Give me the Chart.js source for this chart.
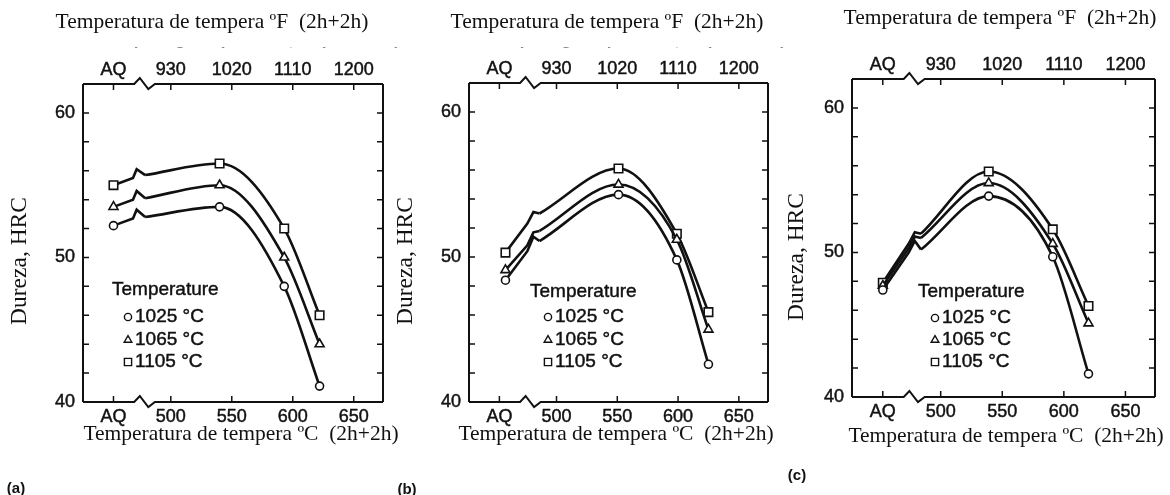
<!DOCTYPE html>
<html>
<head>
<meta charset="utf-8">
<script src="https://cdn.jsdelivr.net/npm/chart.js@4.4.0/dist/chart.umd.min.js"></script>
<style>
  html, body { margin: 0; padding: 0; background: #fff; }
  #wrap { position: relative; width: 1170px; height: 495px; overflow: hidden; }
  #wrap canvas { position: absolute; top: 0; }
</style>
</head>
<body>
<div id="wrap">
  <canvas id="chartA" width="410" height="495" style="left:0px"></canvas>
  <canvas id="chartB" width="410" height="495" style="left:390px"></canvas>
  <canvas id="chartC" width="410" height="495" style="left:780px"></canvas>
</div>
<script>
// ejes comunes
const tickC = [453, 500, 550, 600, 650];
const tickLabelsC = ['AQ', '500', '550', '600', '650'];
const tickLabelsF = ['AQ', '930', '1020', '1110', '1200'];
const seriesNames = ['1025 °C', '1065 °C', '1105 °C'];
const axisBreak = [470, 487];

// panel (a): AQ + revenidos
const tempsA = [453, 540, 593, 622];
const hrcA1025 = [52.2, 53.5, 48.0, 41.1];
const hrcA1065 = [53.5, 55.0, 50.0, 44.0];
const hrcA1105 = [55.0, 56.5, 52.0, 46.0];
const breakTempsA = [469, 472, 479];
const breakA1025 = [52.7, 53.3, 52.8];
const breakA1065 = [54.0, 54.6, 54.1];
const breakA1105 = [55.5, 56.1, 55.7];

// panel (b)
const tempsB = [458, 551, 599, 625];
const hrcB1025 = [48.4, 54.3, 49.8, 42.6];
const hrcB1065 = [49.1, 55.0, 51.2, 45.0];
const hrcB1105 = [50.3, 56.1, 51.6, 46.2];
const breakTempsB = [476, 481, 486];
const breakB1025 = [50.4, 51.4, 51.1];
const breakB1065 = [50.8, 51.7, 51.8];
const breakB1105 = [52.3, 53.1, 53.0];

// panel (c)
const tempsC = [453, 539, 591, 620];
const hrcC1025 = [47.4, 53.9, 49.7, 41.6];
const hrcC1065 = [47.7, 54.8, 50.6, 45.1];
const hrcC1105 = [47.9, 55.6, 51.6, 46.3];
const breakTempsC = [474, 479, 484];
const breakC1025 = [50.0, 50.8, 50.2];
const breakC1065 = [50.3, 51.1, 51.0];
const breakC1105 = [50.6, 51.4, 51.3];

const markers = [
  { style: 'circle', radius: 4 },
  { style: 'triangle', radius: 5.2 },
  { style: 'rect', radius: 6 }
];

const SANS = '"Liberation Sans", Arial, sans-serif';
const SERIF = '"Liberation Serif", "Times New Roman", serif';
const INK = '#111';
const CANVAS_W = 410;

const paneles = [
  {
    id: 'chartA', caption: '(a)', temps: tempsA, breakTemps: breakTempsA,
    series: [hrcA1025, hrcA1065, hrcA1105], breaks: [breakA1025, breakA1065, breakA1105],
    box: { left: 83, right: 383, top: 84, bottom: 402 },
    titleTop: [212, 22], titleBottom: [241, 434], titleY: [20, 261], captionAt: [16, 489],
    oldTitle: [250, 45],
    legend: { x: 112, y: 290, mx: 128, tx: 135, rows: [317, 340, 362] }
  },
  {
    id: 'chartB', caption: '(b)', temps: tempsB, breakTemps: breakTempsB,
    series: [hrcB1025, hrcB1065, hrcB1105], breaks: [breakB1025, breakB1065, breakB1105],
    box: { left: 79, right: 378, top: 83, bottom: 402 },
    titleTop: [217, 22], titleBottom: [226, 434], titleY: [16, 261], captionAt: [17, 490],
    oldTitle: [246, 45],
    legend: { x: 140, y: 292, mx: 158, tx: 165, rows: [317, 340, 362] }
  },
  {
    id: 'chartC', caption: '(c)', temps: tempsC, breakTemps: breakTempsC,
    series: [hrcC1025, hrcC1065, hrcC1105], breaks: [breakC1025, breakC1065, breakC1105],
    box: { left: 72, right: 375, top: 79, bottom: 397 },
    titleTop: [220, 18], titleBottom: [226, 436], titleY: [17, 257], captionAt: [17, 476],
    oldTitle: null,
    legend: { x: 138, y: 292, mx: 155, tx: 162, rows: [318, 340, 362] }
  }
];

function marcador(ctx, style, x, y, r) {
  ctx.beginPath();
  if (style === 'circle') {
    ctx.arc(x, y, r, 0, Math.PI * 2);
  } else if (style === 'triangle') {
    ctx.moveTo(x, y - r);
    ctx.lineTo(x + r * 0.866, y + r * 0.5);
    ctx.lineTo(x - r * 0.866, y + r * 0.5);
    ctx.closePath();
  } else {
    const s = r * Math.SQRT1_2;
    ctx.rect(x - s, y - s, 2 * s, 2 * s);
  }
  ctx.fillStyle = '#fff';
  ctx.fill();
  ctx.stroke();
}

function texto(ctx, txt, x, y, grosor) {
  ctx.fillText(txt, x, y);
  if (grosor) {
    ctx.lineWidth = grosor;
    ctx.strokeText(txt, x, y);
  }
}

// marco, marcas hacia dentro, cortes del eje, leyenda y textos
const marcoPlugin = {
  id: 'marco',
  afterDraw(chart, args, p) {
    const ctx = chart.ctx;
    const { left, right, top, bottom } = chart.chartArea;
    const xs = chart.scales.x, ys = chart.scales.y;
    const b1 = xs.getPixelForValue(axisBreak[0]);
    const b2 = xs.getPixelForValue(axisBreak[1]);
    const w = b2 - b1;
    ctx.save();
    ctx.strokeStyle = INK;
    ctx.lineWidth = 2;
    ctx.lineJoin = 'miter';
    [top, bottom].forEach(yy => {
      ctx.beginPath();
      ctx.moveTo(left, yy);
      ctx.lineTo(b1, yy);
      ctx.lineTo(b1 + w * 0.27, yy - 6);
      ctx.lineTo(b1 + w * 0.68, yy + 5);
      ctx.lineTo(b2, yy);
      ctx.lineTo(right, yy);
      ctx.stroke();
    });
    ctx.beginPath();
    ctx.moveTo(left, top); ctx.lineTo(left, bottom);
    ctx.moveTo(right, top); ctx.lineTo(right, bottom);
    ctx.stroke();

    ctx.lineWidth = 1.5;
    ctx.beginPath();
    ys.ticks.forEach(t => {
      const py = ys.getPixelForValue(t.value);
      if (py <= top + 2 || py >= bottom - 2) return;
      ctx.moveTo(left, py); ctx.lineTo(left + 6, py);
      ctx.moveTo(right, py); ctx.lineTo(right - 6, py);
    });
    xs.ticks.forEach(t => {
      const px = xs.getPixelForValue(t.value);
      ctx.moveTo(px, bottom); ctx.lineTo(px, bottom - 6);
      ctx.moveTo(px, top); ctx.lineTo(px, top + 6);
    });
    ctx.stroke();

    // leyenda
    const lg = p.legend;
    ctx.fillStyle = INK;
    ctx.font = '19px ' + SANS;
    ctx.textBaseline = 'middle';
    ctx.textAlign = 'left';
    texto(ctx, 'Temperature', lg.x, lg.y, 0.45);
    seriesNames.forEach((name, i) => {
      const m = markers[i];
      ctx.lineWidth = 1.4;
      marcador(ctx, m.style, lg.mx, lg.rows[i], m.style === 'circle' ? 3.6 : m.radius * 0.85);
      ctx.fillStyle = INK;
      texto(ctx, name, lg.tx, lg.rows[i], 0.45);
    });

    // titulo original en ingles, tapado salvo los trazos inferiores
    if (p.oldTitle) {
      ctx.save();
      ctx.beginPath();
      ctx.rect(0, p.oldTitle[1] + 2.5, chart.width, 5);
      ctx.clip();
      ctx.font = 'bold 17px ' + SANS;
      ctx.textAlign = 'center';
      ctx.textBaseline = 'alphabetic';
      ctx.fillText('Tempering temperature, °F (2 h + 2 h)', p.oldTitle[0], p.oldTitle[1]);
      ctx.restore();
    }

    // titulos de ejes
    ctx.fillStyle = INK;
    ctx.font = '21.5px ' + SERIF;
    ctx.textAlign = 'center';
    ctx.textBaseline = 'middle';
    ctx.fillText('Temperatura de tempera ºF  (2h+2h)', p.titleTop[0], p.titleTop[1]);
    ctx.fillText('Temperatura de tempera ºC  (2h+2h)', p.titleBottom[0], p.titleBottom[1]);
    ctx.save();
    ctx.translate(p.titleY[0], p.titleY[1]);
    ctx.rotate(-Math.PI / 2);
    ctx.font = '23.5px ' + SERIF;
    ctx.fillText('Dureza, HRC', 0, 0);
    ctx.restore();

    ctx.font = 'bold 15px ' + SANS;
    ctx.fillText(p.caption, p.captionAt[0], p.captionAt[1]);
    ctx.restore();
  }
};

function crearPanel(p) {
  const datasets = [];
  p.series.forEach((vals, i) => {
    const brk = p.breaks[i];
    const m = markers[i];
    const base = {
      borderColor: INK,
      backgroundColor: '#fff',
      borderWidth: 2.6,
      pointStyle: m.style,
      pointBorderColor: INK,
      pointBackgroundColor: '#fff',
      pointBorderWidth: 1.6,
      pointHoverRadius: 0
    };
    const tramoAQ = [{ x: p.temps[0], y: vals[0] }]
      .concat(p.breakTemps.map((t, j) => ({ x: t, y: brk[j] })));
    const curva = [{ x: p.breakTemps[2], y: brk[2] }]
      .concat(p.temps.slice(1).map((t, j) => ({ x: t, y: vals[j + 1] })));
    datasets.push(Object.assign({}, base, {
      label: seriesNames[i],
      data: tramoAQ,
      tension: 0,
      pointRadius: ctx => (ctx.dataIndex === 0 ? m.radius : 0)
    }));
    datasets.push(Object.assign({}, base, {
      label: seriesNames[i],
      data: curva,
      cubicInterpolationMode: 'monotone',
      pointRadius: ctx => (ctx.dataIndex === 0 ? 0 : m.radius)
    }));
  });

  const tickFont = { family: SANS, size: 18 };
  const H = 495;

  return new Chart(document.getElementById(p.id), {
    type: 'line',
    data: { datasets: datasets },
    options: {
      responsive: false,
      animation: false,
      devicePixelRatio: 1,
      layout: { padding: { top: 0, bottom: 0, left: 0, right: CANVAS_W - p.box.right } },
      plugins: {
        legend: { display: false },
        tooltip: { enabled: false },
        marco: p
      },
      scales: {
        x: {
          type: 'linear', position: 'bottom', min: 428, max: 674,
          grid: { display: false, drawTicks: false },
          border: { display: false },
          afterBuildTicks: ax => { ax.ticks = tickC.map(v => ({ value: v })); },
          afterFit: ax => { ax.height = H - p.box.bottom; },
          ticks: {
            autoSkip: false, maxRotation: 0, padding: 4, color: INK, font: tickFont,
            textStrokeColor: INK, textStrokeWidth: 0.45,
            callback: v => tickLabelsC[tickC.indexOf(v)]
          }
        },
        x2: {
          type: 'linear', position: 'top', min: 428, max: 674,
          grid: { display: false, drawTicks: false },
          border: { display: false },
          afterBuildTicks: ax => { ax.ticks = tickC.map(v => ({ value: v })); },
          afterFit: ax => { ax.height = p.box.top; },
          ticks: {
            autoSkip: false, maxRotation: 0, padding: 3, color: INK, font: tickFont,
            textStrokeColor: INK, textStrokeWidth: 0.45,
            callback: v => tickLabelsF[tickC.indexOf(v)]
          }
        },
        y: {
          type: 'linear', position: 'left', min: 40, max: 62,
          grid: { display: false, drawTicks: false },
          border: { display: false },
          afterFit: ax => { ax.width = p.box.left; },
          ticks: {
            stepSize: 2, padding: 8, color: INK, font: tickFont,
            textStrokeColor: INK, textStrokeWidth: 0.45,
            callback: v => (v % 10 === 0 ? String(v) : '')
          }
        }
      }
    },
    plugins: [marcoPlugin]
  });
}

paneles.forEach(crearPanel);
</script>
</body>
</html>
